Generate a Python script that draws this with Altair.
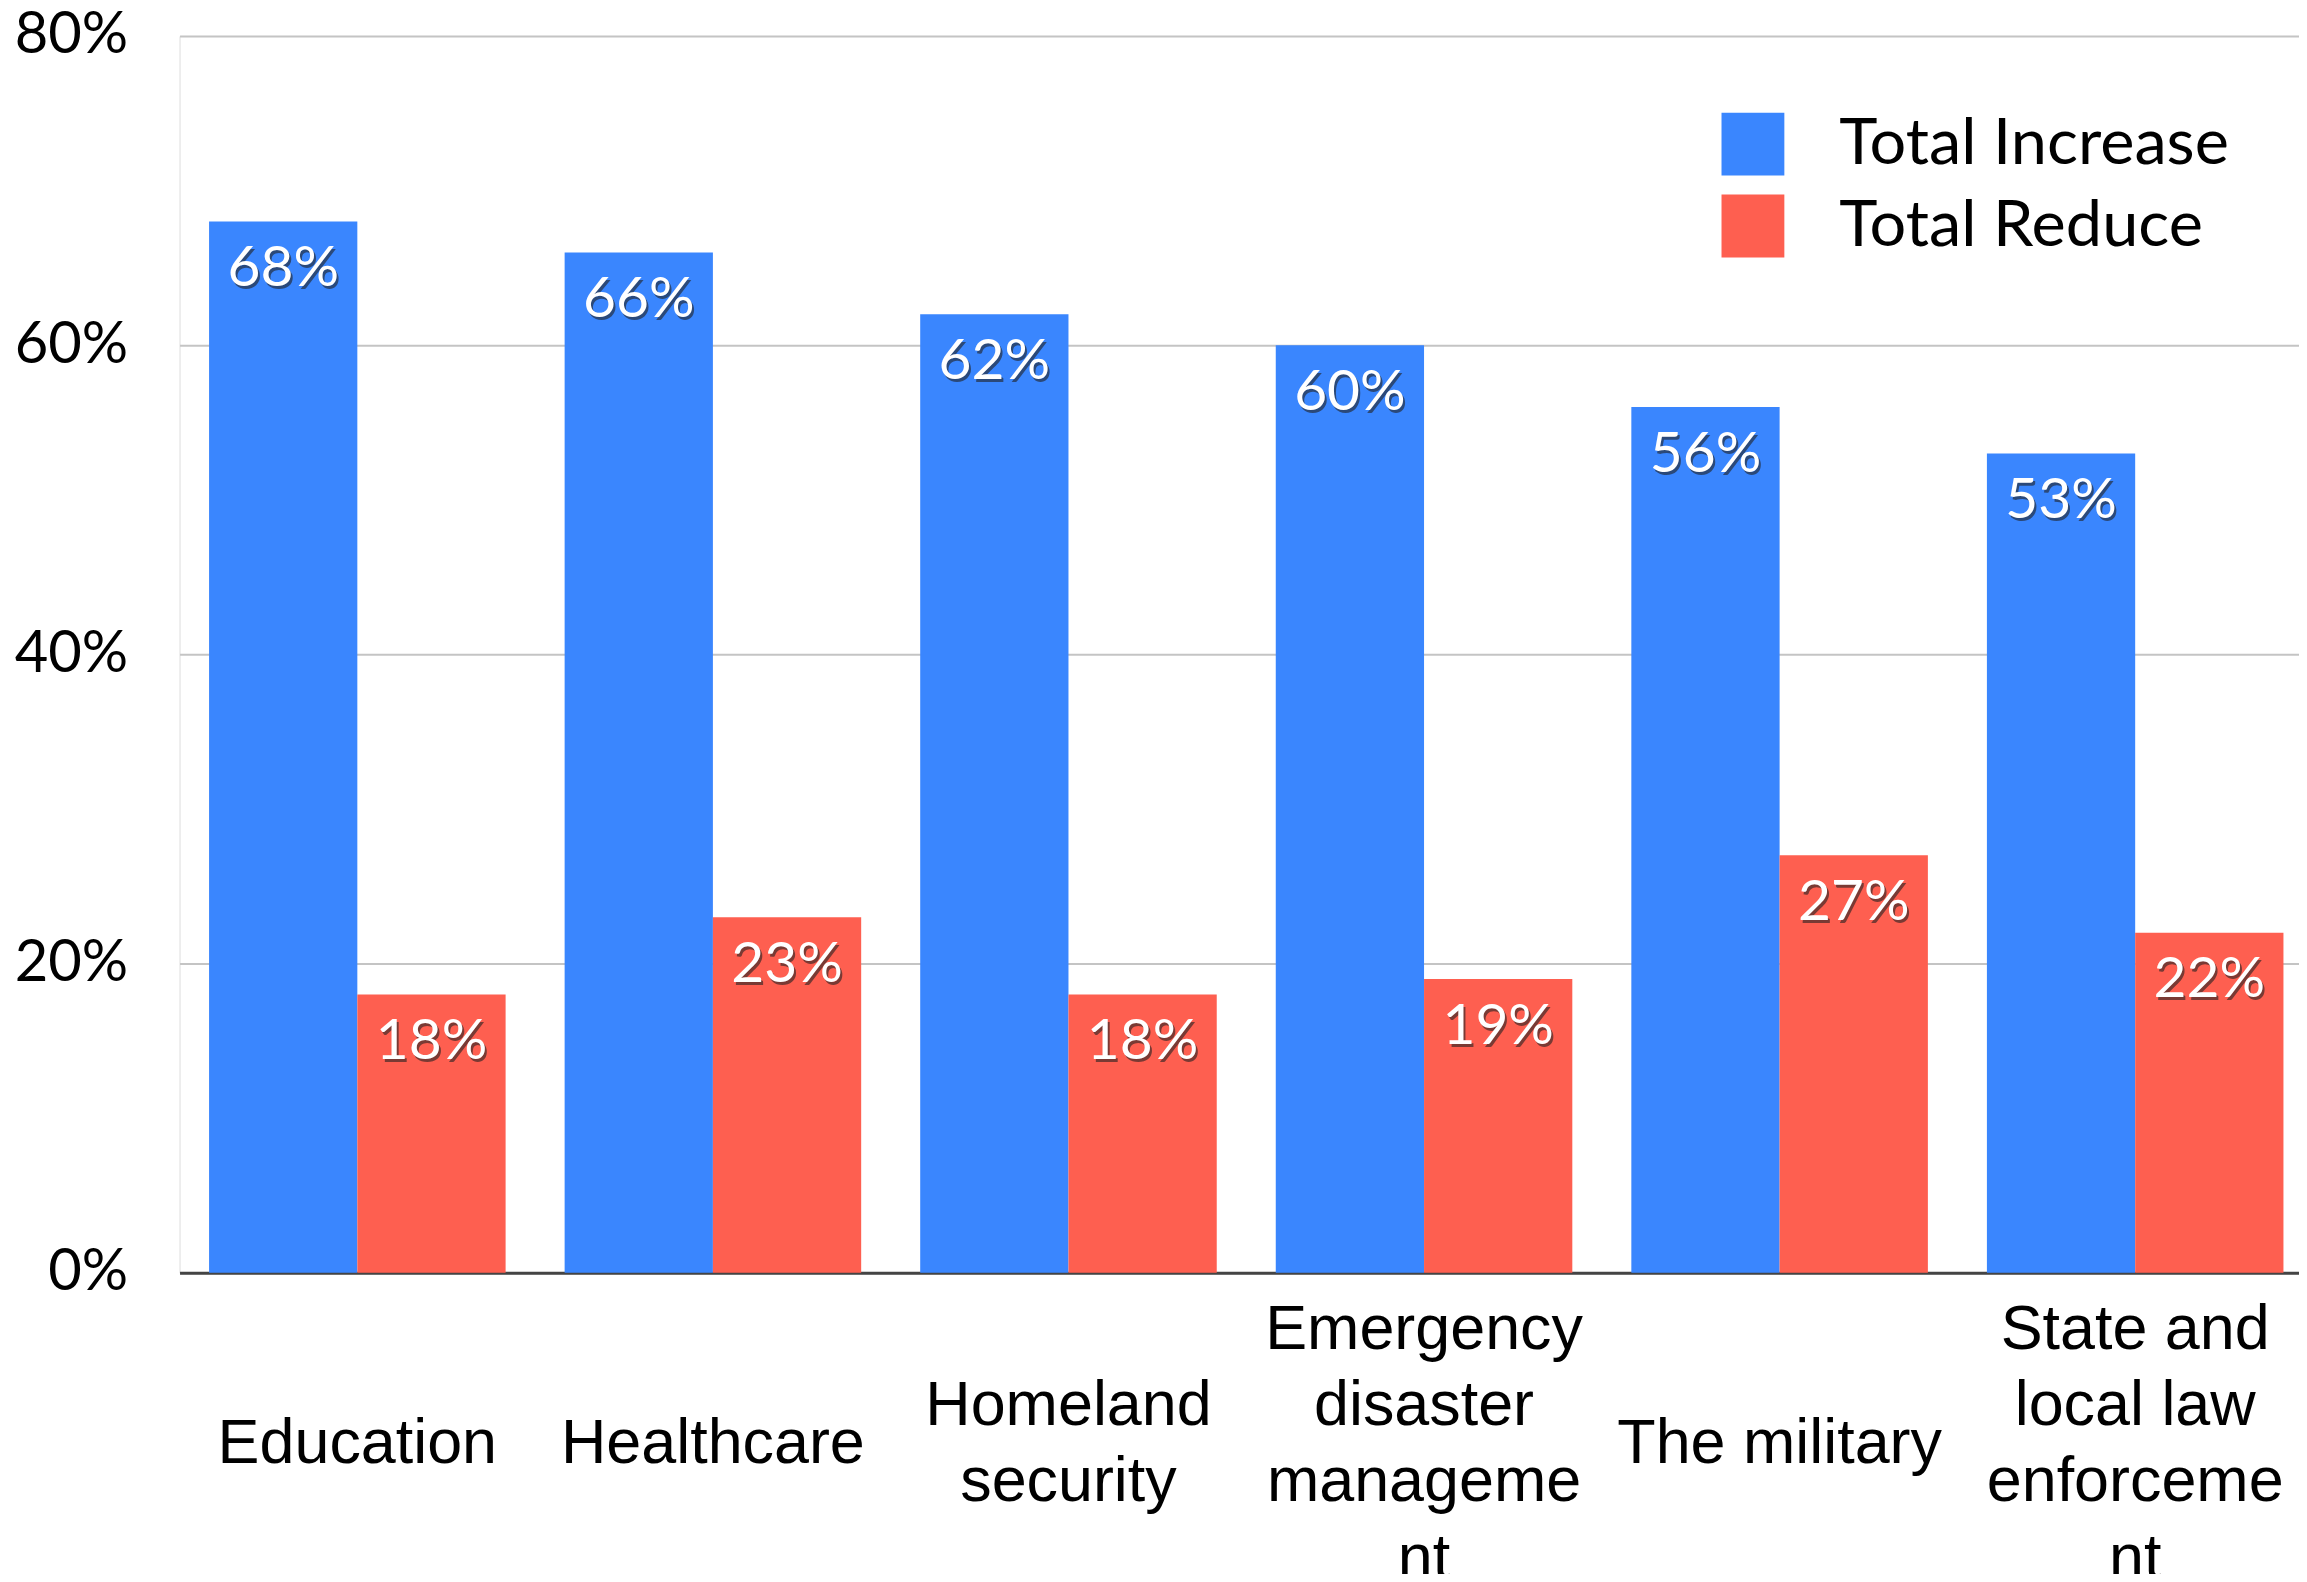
import altair as alt
import pandas as pd

categories = ["Education", "Healthcare", "Homeland security",
              "Emergency disaster management", "The military",
              "State and local law enforcement"]
label_lines = [["Education"], ["Healthcare"], ["Homeland", "security"],
               ["Emergency", "disaster", "manageme", "nt"], ["The military"],
               ["State and", "local law", "enforceme", "nt"]]
series = ["Total Increase", "Total Reduce"]
increase = [68, 66, 62, 60, 56, 53]
reduce_ = [18, 23, 18, 19, 27, 22]
y_ticks = [0, 20, 40, 60, 80]
colors = ["#3a86fe", "#fe5f50"]

PLOT_W, PLOT_H = 2125, 1240
Y_MAX = 80
LABEL_CENTER = PLOT_H + 172   # pixel centre of each category label block
LINE_H = 76.5

rows = []
for c, a, b in zip(categories, increase, reduce_):
    rows.append({"category": c, "series": series[0], "value": a, "label": f"{a}%"})
    rows.append({"category": c, "series": series[1], "value": b, "label": f"{b}%"})
df = pd.DataFrame(rows)

# category label lines, placed below the axis (converted to y-scale units)
line_rows = []
for c, lines in zip(categories, label_lines):
    n = len(lines)
    for i, ln in enumerate(lines):
        px = LABEL_CENTER + (i - (n - 1) / 2) * LINE_H
        line_rows.append({"category": c, "line": ln,
                          "yval": Y_MAX * (1 - px / PLOT_H)})
lines_df = pd.DataFrame(line_rows)

x_scale = alt.Scale(domain=categories, paddingInner=0.166, paddingOuter=0.083,
                    range=[0, 2139])
y_scale = alt.Scale(domain=[0, Y_MAX], nice=False)
x_enc = alt.X(
    "category:N", sort=categories, scale=x_scale,
    axis=alt.Axis(
        title=None, labels=False, ticks=False, grid=False, domain=True,
        domainColor="#444444", domainWidth=3,
    ),
)
y_axis = alt.Axis(
    title=None, values=y_ticks, labelExpr="datum.value + '%'",
    grid=True, gridColor="#c4c4c4", gridWidth=2,
    domain=False, ticks=False,
    labelFont="Lato", labelFontSize=58, labelColor="#000000",
    labelPadding=52,
)
y_enc = alt.Y("value:Q", scale=y_scale, axis=y_axis)
xoff = alt.XOffset("series:N", sort=series)

bars = alt.Chart(df).mark_bar().encode(
    x=x_enc, y=y_enc, xOffset=xoff,
    color=alt.Color(
        "series:N", sort=series,
        scale=alt.Scale(domain=series, range=colors),
        legend=alt.Legend(
            title=None, orient="none", legendX=1545, legendY=76,
            symbolType="square", symbolSize=3969, symbolStrokeWidth=0,
            labelFont="Lato", labelFontSize=65, labelColor="#000000",
            labelOffset=54, rowPadding=16, padding=0, labelLimit=0,
        ),
    ),
)

shadow = alt.Chart(df).mark_text(
    baseline="top", dy=23, dx=2, font="Lato", fontSize=57,
    color="#222222", opacity=0.6,
).encode(x=x_enc, y=y_enc, xOffset=xoff, text="label:N")

labels = alt.Chart(df).mark_text(
    baseline="top", dy=20, font="Lato", fontSize=57, color="#ffffff",
).encode(x=x_enc, y=y_enc, xOffset=xoff, text="label:N")

cat_labels = alt.Chart(lines_df).mark_text(
    baseline="middle", align="center", font="Liberation Sans", fontSize=63,
    color="#000000",
).encode(
    x=x_enc,
    y=alt.Y("yval:Q", scale=y_scale, axis=y_axis),
    text="line:N",
)

chart = alt.layer(bars, shadow, labels, cat_labels).properties(
    width=PLOT_W, height=PLOT_H,
    autosize=alt.AutoSizeParams(type="none"),
    padding={"left": 172, "top": 26, "right": 0, "bottom": 300},
).configure_view(strokeWidth=0, stroke="transparent").configure(background="#ffffff")

chart.save("out.html", embed_options={"renderer": "svg", "actions": False})
